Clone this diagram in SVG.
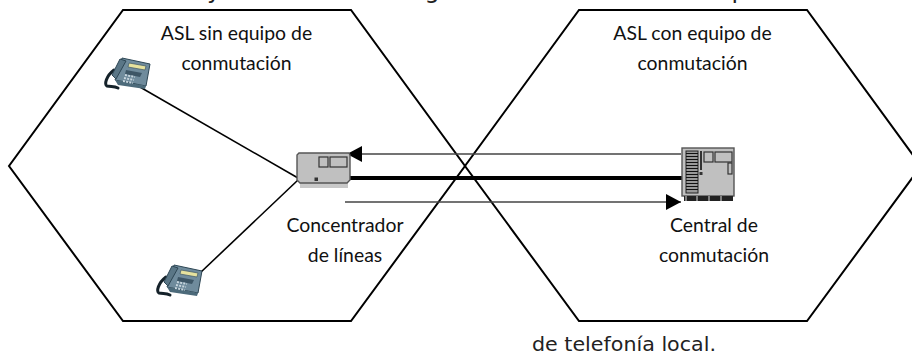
<svg xmlns="http://www.w3.org/2000/svg" width="912" height="354" viewBox="0 0 912 354">
<style>
.hex{fill:none;stroke:#000;stroke-width:2}
.lbl{font-family:"Lato","Open Sans","Liberation Sans",sans-serif;font-size:19.4px;fill:#111;text-anchor:middle}
.cap{font-family:"DejaVu Sans","Open Sans",sans-serif;font-size:19px;fill:#222}
.top{font-family:"DejaVu Sans","Open Sans",sans-serif;font-size:24px;fill:#222;text-anchor:middle}
.wire{stroke:#000;stroke-width:1.6;fill:none}
.flow{stroke:#444;stroke-width:1.6;fill:none}
.win{fill:none;stroke:#333;stroke-width:1.2}
.box{fill:#c0c0c0;stroke:#555;stroke-width:1.4}
.ph{fill:#6f8b9c;stroke:#2d4654;stroke-width:1}
.key{fill:#3d5666}
.cord{fill:none;stroke:#15222a;stroke-width:3;stroke-linecap:round}
</style>
<defs>
<marker id="head" viewBox="0 0 10 10" refX="10" refY="5" markerUnits="userSpaceOnUse" markerWidth="15" markerHeight="16" orient="auto" preserveAspectRatio="none"><path d="M0 0L10 5L0 10Z" fill="#000"/></marker>
<g id="phone">
<path class="cord" d="M9 12C1 18-1 27 2 28C6 29 9 28 13 30"/>
<path d="M17 0L45 6L41 28L10 22Z" class="ph"/>
<path d="M10 22L41 28L40 31L13 27Z" fill="#4c6a7a"/>
<path d="M15 1L7 17L11 21L21 3Z" fill="#5a7686" stroke="#2d4654" stroke-width="1"/>
<path d="M24 5L41 8L40 12L23 9Z" fill="#e6e29e" stroke="#3d5666" stroke-width=".7"/>
<path class="key" d="M21 12L37 15L35 19L20 16Z"/>
<path d="M20 17L30 19M19 20L29 22M18 23L28 25" stroke="#c8d6de" stroke-width="1.8" stroke-dasharray="2 1.2"/>
</g>
</defs>
<g id="caption">
<text class="cap" x="532" y="351" textLength="184" lengthAdjust="spacingAndGlyphs">de telefonía local.</text>
<text class="top" x="214" y="-2">y</text>
<text class="top" x="432" y="-2">g</text>
<text class="top" x="739" y="-2">p</text>
</g>
<g id="asl-sin"><path class="hex" d="M123 10H351L465 166L351 321H123L9 166Z"/>
<text class="lbl" x="236.500" y="40">ASL sin equipo de</text><text class="lbl" x="236.500" y="70">conmutación</text></g>
<g id="asl-con"><path class="hex" d="M579 10H807L921 166L807 321H579L465 166Z"/>
<text class="lbl" x="692.500" y="40">ASL con equipo de</text><text class="lbl" x="692.500" y="70">conmutación</text></g>
<g id="connectors">
<path class="wire" d="M133 83L298 178"/>
<path class="wire" d="M298 180L200 273"/>
<path class="flow" d="M681 154H347" marker-end="url(#head)"/>
<path d="M345 178H682" stroke="#000" stroke-width="4"/>
<path class="flow" d="M345 202H681" marker-end="url(#head)"/>
</g>
<g id="telefono-1"><use href="#phone" x="105" y="58"/></g>
<g id="telefono-2"><use href="#phone" x="157" y="265"/></g>
<g id="concentrador">
<path d="M300 183H348V188H300Z" fill="#c8c8c8"/>
<path class="box" d="M299 153H349L350 155V180L347 183H300L297 180V155Z"/>
<rect class="win" x="319" y="157" width="9" height="10"/><rect class="win" x="330" y="157" width="17" height="10"/>
<rect x="314.500" y="177.500" width="3.500" height="3.500" fill="#333"/>
<text class="lbl" x="345" y="232">Concentrador</text><text class="lbl" x="345" y="262">de líneas</text>
</g>
<g id="central">
<rect class="box" x="682" y="148" width="52" height="48"/>
<rect x="684" y="196" width="49" height="5" fill="#222"/>
<path d="M686 196v5M697 196v5M709 196v5M721 196v5" stroke="#ddd"/>
<rect x="686" y="151" width="12" height="42" fill="#999" stroke="#222"/>
<path d="M686 153.500H698M686 156.500H698M686 159.500H698M686 162.500H698M686 165.500H698M686 168.500H698M686 171.500H698M686 174.500H698M686 177.500H698M686 180.500H698M686 183.500H698M686 186.500H698M686 189.500H698" stroke="#111"/>
<rect x="700" y="151" width="2" height="19" fill="#333"/><rect x="699.500" y="172" width="3" height="3" fill="#333"/>
<rect class="win" x="704" y="152" width="9" height="10"/><rect class="win" x="715" y="152" width="17" height="10"/><rect class="win" x="728" y="163" width="4" height="11"/>
<text class="lbl" x="714" y="232">Central de</text><text class="lbl" x="714" y="262">conmutación</text>
</g>
</svg>
